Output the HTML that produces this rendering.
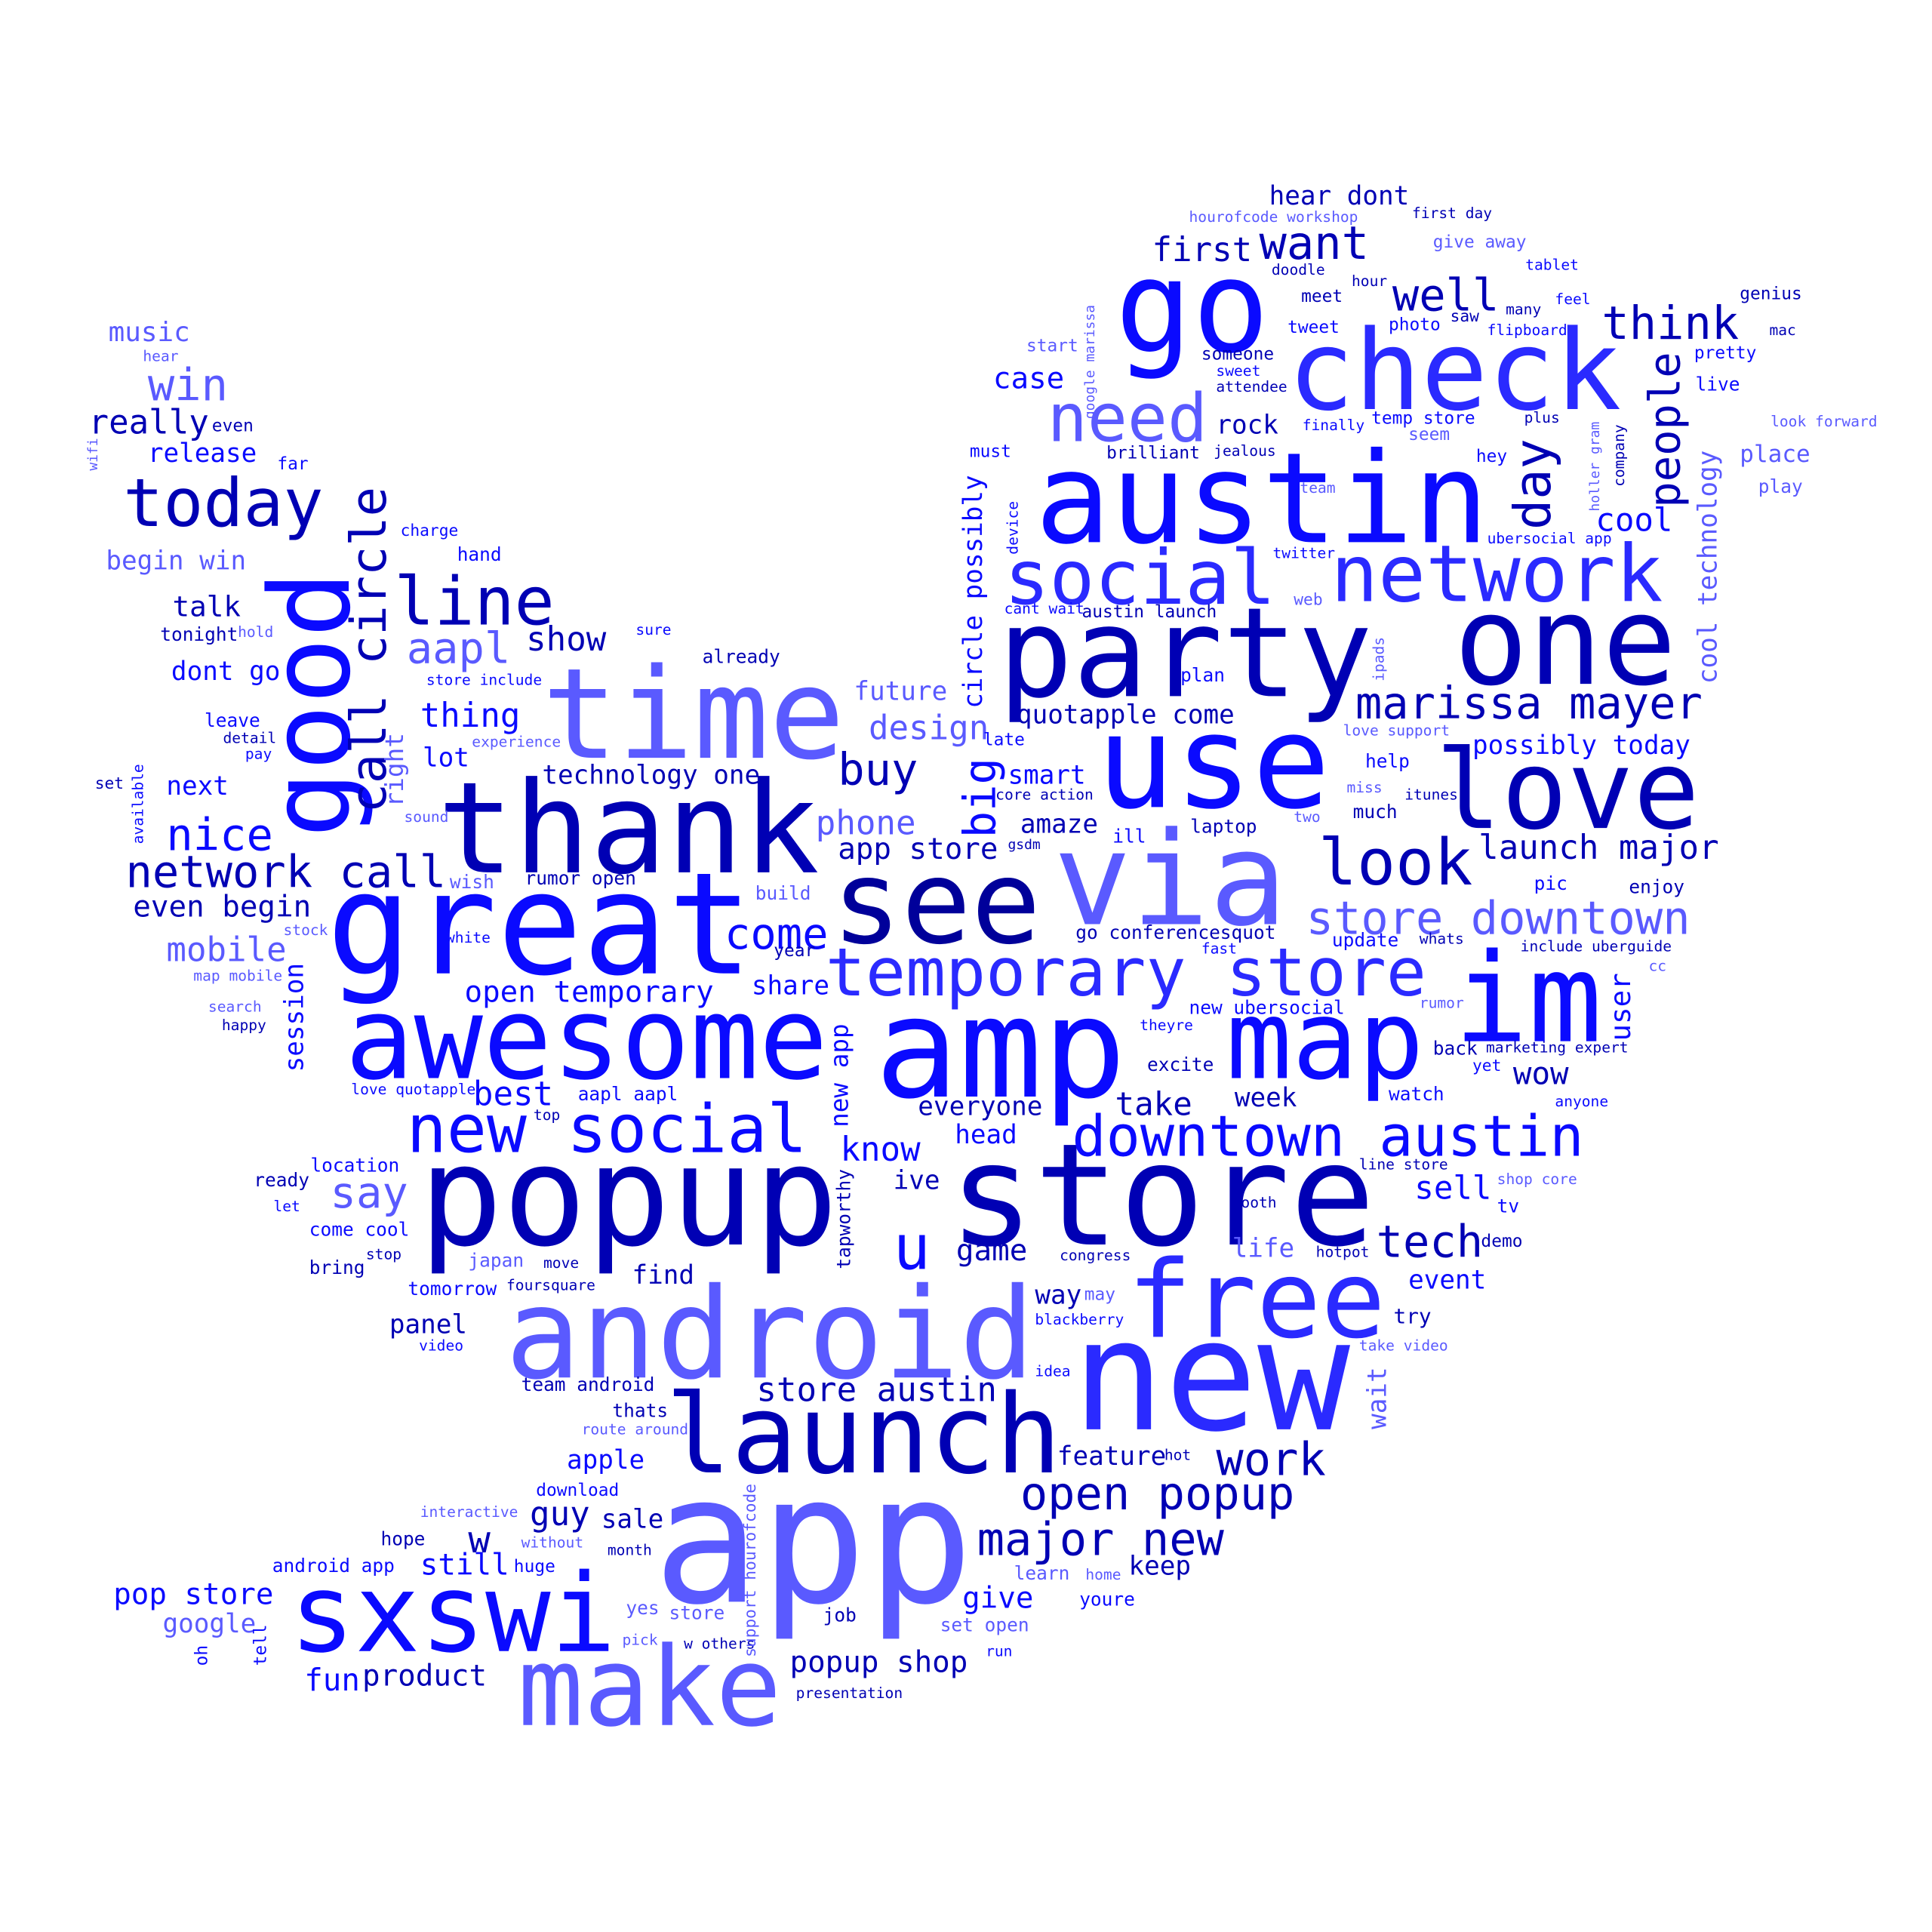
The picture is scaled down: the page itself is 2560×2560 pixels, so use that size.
<!DOCTYPE html>
<html><head><meta charset="utf-8"><style>
html,body{margin:0;padding:0;background:#fff;}
svg{display:block;}
text{font-family:"DejaVu Sans Mono","Liberation Mono",monospace;}
</style></head><body>
<svg id="cloud" xmlns="http://www.w3.org/2000/svg" width="2560" height="2560" viewBox="0 0 1568 1568">
<rect width="1568" height="1568" fill="#fff"/>
</svg>
<script>
const D="#0000b4",B="#0a0aff",M="#2a2aff",L="#5a5aff";
const words=["app","popup","store","thank","great","android","new","launch","sxswi","make","free","amp","map","awesome","see","via","use","love","party","one","austin","social","network","check","go","time","line","today","im","temporary store","downtown austin","new social","look","need","marissa mayer","think","store downtown","open popup","major new","work","tech","u","come","buy","want","well","first","aapl","show","nice","network call","mobile","even begin","talk","win","really","release","music","begin win","thing","technology one","phone","app store","design","future","quotapple come","possibly today","launch major","cool","smart","amaze","open temporary","share","say","best","know","ive","everyone","take","head","week","wow","sell","event","game","find","panel","store austin","feature","apple","guy","sale","w","still","pop store","google","fun","product","popup shop","give","keep","way","try","life","lot","next","dont go","rock","case","hear dont"];
const xs=[530,340,770,355,265,410,870,540,235,420,915,710,995,280,675,855,890,1165,810,1180,840,815,1080,1045,905,440,320,100,1180,670,870,330,1070,850,1100,1300,1060,828,793,987,1117,725,588,680,1022,1130,935,330,427,135,102,135,108,140,120,72,120,88,86,341,440,662,680,705,693,825,1195,1200,1295,818,828,377,610,268,384,682,725,745,905,775,1002,1228,1148,1143,776,513,316,614,858,460,430,488,380,341,92,132,247,294,641,781,916,840,1131,1000,343,135,139,987,806,1030];
const ys=[1300,1010,1010,708,790,1118,1160,1195,1340,1400,1085,890,875,875,765,750,655,672,565,555,440,490,488,332,285,615,507,427,845,808,938,935,718,358,583,275,758,1225,1262,1197,1020,1030,770,637,210,252,212,538,528,690,720,780,744,500,325,352,375,277,462,590,636,677,697,600,568,587,612,697,431,636,676,813,807,980,897,942,965,905,905,928,898,880,973,1046,1023,1042,1082,1137,1189,1192,1238,1240,1260,1278,1302,1325,1372,1368,1357,1305,1278,1058,1074,1020,622,645,552,352,315,166];
const sizes=[144,113,115,103,115,102,125,89,88,89,87,113,89,93,94,105,105,89,101,100,102,61,64,90,104,102,54,54,100,54,46,54,52,54,36,37,37,37,37,37,36,50,35,36,37,36,27,35,27,36,36,27,24,23,36,27,21,22,21,27,21,27,24,27,21,21,21,27,26,21,21,24,21,35,27,27,21,21,26,21,21,25,26,21,24,21,21,27,21,21,27,21,30,24,24,21,25,24,24,24,21,21,17,21,21,21,21,21,24,21];
const colors=[L,D,D,D,B,L,M,D,B,L,M,B,B,B,"#00009a",L,B,D,D,D,B,M,M,M,B,L,D,D,B,M,B,B,D,L,D,D,L,D,D,D,D,B,B,D,D,D,D,L,D,B,D,L,D,D,L,D,B,L,L,B,D,L,D,L,L,D,B,D,B,B,D,B,B,L,B,B,D,D,D,B,D,D,B,B,D,D,D,D,D,B,D,D,D,B,B,L,B,D,D,B,D,D,D,L,B,B,B,D,B,D];

const smallWords=["hourofcode workshop","first day","give away","doodle","tablet","hour","meet","many","feel","genius",
"tweet","photo","saw","flipboard","mac","start","someone","pretty","sweet","attendee",
"live","look forward","temp store","finally","plus","seem","must","brilliant","jealous","hey",
"place","play","team","ubersocial app","twitter","web","cant wait","austin launch","plan","love support",
"late","help","core action","miss","itunes","much","two","laptop","ill","gsdm",
"pic","enjoy","go conferencesquot","fast","update","whats","include uberguide","cc","new ubersocial","rumor",
"theyre","back","marketing expert","excite","yet","watch","anyone","line store","shop core","tv",
"booth","hotpot","demo","congress","may","blackberry","take video","idea","hot","learn",
"home","youre","set open","run","presentation","job","w others","pick","store","yes",
"month","huge","without","hope","interactive","download","android app","route around","thats","team android",
"video","tomorrow","foursquare","move","japan","stop","bring","come cool","let","ready",
"location","aapl aapl","top","love quotapple","happy","search","map mobile","white","stock","wish",
"rumor open","build","year","sound","set","pay","detail","leave","experience","store include",
"hold","tonight","sure","already","hand","charge","far","even","hear"];
const smallXs=[965,1146,1163,1032,1238,1097,1056,1222,1262,1412,
1045,1127,1177,1207,1436,833,975,1375,987,987,
1376,1437,1113,1057,1237,1143,787,898,985,1198,
1412,1427,1055,1207,1033,1050,815,878,958,1090,
798,1108,808,1093,1140,1098,1050,966,903,818,
1245,1322,873,975,1081,1152,1234,1338,965,1152,
925,1163,1206,931,1195,1127,1262,1103,1215,1215,
1000,1068,1202,860,880,840,1103,840,945,823,
881,876,763,800,646,668,555,505,543,508,
493,417,423,309,341,435,221,472,497,423,
340,331,411,441,380,297,251,251,222,206,
252,469,433,285,180,169,157,362,230,365,
426,613,628,328,77,199,181,166,383,346,
193,130,516,570,371,325,225,172,116];
const smallYs=[180,177,201,223,219,232,245,255,247,243,
270,268,261,272,272,285,292,291,305,318,
317,346,344,349,343,357,371,372,370,375,
375,400,400,441,453,491,498,501,553,597,
605,623,649,643,649,664,667,676,684,689,
722,725,762,774,768,766,772,788,823,818,
836,856,854,869,869,893,898,949,961,984,
980,1020,1012,1023,1055,1075,1096,1117,1185,1282,
1282,1303,1324,1344,1378,1316,1338,1335,1314,1310,
1262,1276,1256,1254,1231,1214,1276,1164,1150,1129,
1096,1051,1047,1029,1028,1022,1034,1003,983,963,
951,893,909,888,836,821,796,765,759,721,
718,730,776,667,640,616,603,590,606,556,
517,520,515,538,455,435,381,350,293];
const smallSizes=[12,12,14,12,12,12,14,12,12,14,
14,14,13,12,12,14,14,14,12,12,
15,12,14,12,12,14,14,14,12,14,
19,15,12,12,12,13,12,14,15,12,
14,15,12,12,12,15,12,15,15,11,
15,15,15,12,15,12,12,12,15,12,
12,15,12,15,13,15,12,12,12,15,
12,12,14,12,14,12,12,12,12,15,
12,15,15,12,12,15,12,12,15,15,
12,14,12,15,12,14,15,12,15,15,
12,15,12,12,15,12,15,15,12,15,
15,15,12,12,12,12,12,12,12,15,
15,15,14,12,13,12,12,15,12,12,
12,15,12,15,15,13,14,14,12];
const smallColors=[L,D,L,D,B,D,D,D,B,D,
B,B,D,B,D,L,D,B,B,D,
B,L,B,B,D,L,B,D,D,B,
L,L,L,B,B,L,B,D,B,L,
B,B,D,L,D,D,L,D,B,D,
B,D,D,B,B,D,D,L,B,L,
B,D,D,D,B,B,B,D,L,B,
D,D,D,D,L,B,L,B,D,L,
L,B,L,B,D,D,D,L,L,L,
D,B,L,D,L,B,B,L,D,D,
B,B,D,D,L,D,D,B,B,D,
B,B,D,B,D,L,L,B,L,L,
D,L,D,L,D,B,D,B,L,B,
L,D,B,D,B,B,B,D,L];

const rotWords=["good","call circle","people","day","cool technology","circle possibly","big","session","right","user","wait","tapworthy","new app","support hourofcode","oh","tell","available","wifi","google marissa","device","ipads","holler gram","company"];
const rotXs=[283,313,1363,1258,1393,797,808,246,327,1323,1125,690,688,613,168,216,116,79,888,826,1123,1298,1318];
const rotYs=[680,660,412,430,555,575,680,870,655,845,1160,1030,915,1345,1352,1352,685,382,340,450,553,415,395];
const rotSizes=[90,40,35,41,21,21,36,21,20,23,21,15,20,13,14,14,12,11,11,12,12,11,12];
const rotColors=[B,D,D,D,L,B,B,B,L,B,L,D,B,L,B,B,B,L,L,B,L,L,D];

const svg=document.getElementById('cloud');
const NS="http://www.w3.org/2000/svg";
function put(w,x,y,s,c,rot){
  const t=document.createElementNS(NS,'text');
  t.setAttribute('x',x);
  t.setAttribute('y',y);
  t.setAttribute('font-size',s);
  t.setAttribute('fill',c);
  if(rot) t.setAttribute('transform','rotate('+rot+' '+x+' '+y+')');
  t.textContent=w;
  
  
  svg.appendChild(t);
}
for(let i=0;i<words.length;i++) put(words[i],xs[i],ys[i],sizes[i],colors[i],0);
for(let i=0;i<smallWords.length;i++) put(smallWords[i],smallXs[i],smallYs[i],smallSizes[i],smallColors[i],0);
for(let i=0;i<rotWords.length;i++) put(rotWords[i],rotXs[i],rotYs[i],rotSizes[i],rotColors[i],-90);
</script>
</body></html>
